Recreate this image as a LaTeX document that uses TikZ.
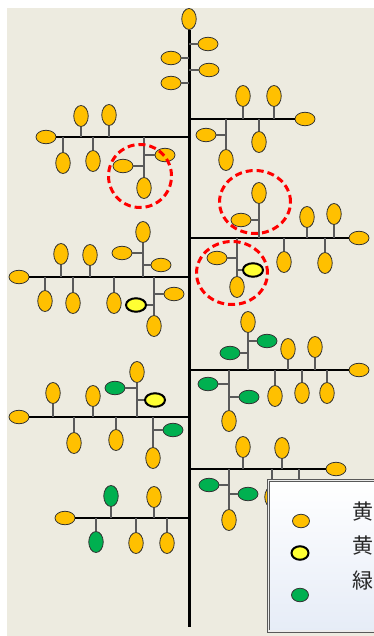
\documentclass[tikz,border=0pt]{standalone}
\usepackage{fontspec}
\usepackage{tikz}
\usetikzlibrary{shapes.geometric}
\newfontfamily\cjk{Noto Sans CJK JP}
\definecolor{paper}{HTML}{EDEBE0}
\definecolor{leafor}{HTML}{FFC000}
\definecolor{leafye}{HTML}{FFFF33}
\definecolor{leafgr}{HTML}{00B050}
\definecolor{leafedge}{HTML}{333333}
\definecolor{twiggray}{HTML}{5A5A5A}
\definecolor{boxtint}{HTML}{E6ECF7}

\begin{document}
\begin{tikzpicture}[x=1pt,y=-1pt,
  leaf/.style={ellipse,draw=leafedge,line width=0.8pt,fill=leafor,inner sep=0pt},
  hleaf/.style={leaf,minimum width=20pt,minimum height=13.5pt},
  vleaf/.style={leaf,minimum width=14.5pt,minimum height=21pt},
  or/.style={},
  gr/.style={fill=leafgr},
  hot/.style={fill=leafye,draw=black,line width=2pt},
  trunk/.style={line width=3pt},
  branch/.style={line width=1.1pt},
  twig/.style={line width=1.3pt,draw=twiggray},
  ring/.style={ellipse,draw=red,line width=3pt,dash pattern=on 7pt off 4pt,inner sep=0pt},
  keydot/.style={ellipse,draw=leafedge,line width=0.8pt,inner sep=0pt,minimum width=17pt,minimum height=13.5pt},
  keytext/.style={font=\cjk\fontsize{21}{21}\selectfont,text=black!85,inner sep=0pt}]
  \useasboundingbox (0,0) rectangle (374,636);
  \clip (0,0) rectangle (374,636);
  \fill[paper] (7,8) rectangle (374,636);

  \node[vleaf] (tip) at (189,19) {};
  \coordinate (base) at (189,627);
  \draw[trunk] (tip) -- (base);
  \foreach \p/\x/\y in {a/208/44,b/171/58,c/209/70,d/171/83}
    {\node[hleaf] (t\p) at (\x,\y) {}; \draw[twig] (base |- t\p) -- (t\p);}

  \coordinate (R1) at (189,119);
  \node[hleaf] (R1e) at (305,119) {};
  \draw[branch] (R1) -- (R1e);
  \foreach \p/\x/\y in {a/243/96,b/274/96,c/259/142}
    {\node[vleaf] (R1\p) at (\x,\y) {}; \draw[twig] (R1\p |- R1) -- (R1\p);}
  \coordinate (R1s) at (226,119);
  \node[vleaf] (R1sb) at (226,160) {};
  \draw[twig] (R1s) -- (R1sb);
  \node[hleaf] (R1sl) at (206,135) {};
  \draw[twig] (R1s |- R1sl) -- (R1sl);

  \coordinate (L1) at (189,137);
  \node[hleaf] (L1e) at (46,137) {};
  \draw[branch] (L1) -- (L1e);
  \foreach \p/\x/\y in {a/81/116,b/109/115,c/63/163,d/93/161}
    {\node[vleaf] (L1\p) at (\x,\y) {}; \draw[twig] (L1\p |- L1) -- (L1\p);}
  \coordinate (L1s) at (144,137);
  \node[vleaf] (L1sb) at (144,188) {};
  \draw[twig] (L1s) -- (L1sb);
  \foreach \p/\x/\y/\c in {r/165/155/or,l/123/166/or}
    {\node[hleaf,\c] (L1s\p) at (\x,\y) {}; \draw[twig] (L1s |- L1s\p) -- (L1s\p);}

  \coordinate (R2) at (189,238);
  \node[hleaf] (R2e) at (359,238) {};
  \draw[branch] (R2) -- (R2e);
  \foreach \p/\x/\y in {a/307/217,b/334/214,c/284/262,d/325/263}
    {\node[vleaf] (R2\p) at (\x,\y) {}; \draw[twig] (R2\p |- R2) -- (R2\p);}
  \coordinate (R2u) at (259,238);
  \node[vleaf] (R2ut) at (259,193) {};
  \draw[twig] (R2u) -- (R2ut);
  \node[hleaf] (R2ul) at (241,220) {};
  \draw[twig] (R2u |- R2ul) -- (R2ul);
  \coordinate (R2d) at (237,238);
  \node[vleaf] (R2db) at (237,287) {};
  \draw[twig] (R2d) -- (R2db);
  \foreach \p/\x/\y/\c in {l/217/258/or,r/253/270/hot}
    {\node[hleaf,\c] (R2d\p) at (\x,\y) {}; \draw[twig] (R2d |- R2d\p) -- (R2d\p);}

  \coordinate (L2) at (189,277);
  \node[hleaf] (L2e) at (19,277) {};
  \draw[branch] (L2) -- (L2e);
  \foreach \p/\x/\y in {a/61/254,b/90/255,c/45/301,d/73/303,e/114/303}
    {\node[vleaf] (L2\p) at (\x,\y) {}; \draw[twig] (L2\p |- L2) -- (L2\p);}
  \coordinate (L2u) at (143,277);
  \node[vleaf] (L2ut) at (143,232) {};
  \draw[twig] (L2u) -- (L2ut);
  \foreach \p/\x/\y/\c in {l/122/253/or,r/161/265/or}
    {\node[hleaf,\c] (L2u\p) at (\x,\y) {}; \draw[twig] (L2u |- L2u\p) -- (L2u\p);}
  \coordinate (L2d) at (154,277);
  \node[vleaf] (L2db) at (154,326) {};
  \draw[twig] (L2d) -- (L2db);
  \foreach \p/\x/\y/\c in {l/136/305/hot,r/174/294/or}
    {\node[hleaf,\c] (L2d\p) at (\x,\y) {}; \draw[twig] (L2d |- L2d\p) -- (L2d\p);}

  \coordinate (R3) at (189,370);
  \node[hleaf] (R3e) at (359,370) {};
  \draw[branch] (R3) -- (R3e);
  \foreach \p/\x/\y in {a/288/349,b/315/347,c/275/396,d/302/393,e/327/393}
    {\node[vleaf] (R3\p) at (\x,\y) {}; \draw[twig] (R3\p |- R3) -- (R3\p);}
  \coordinate (R3u) at (248,370);
  \node[vleaf] (R3ut) at (248,322) {};
  \draw[twig] (R3u) -- (R3ut);
  \foreach \p/\x/\y/\c in {r/267/341/gr,l/230/353/gr}
    {\node[hleaf,\c] (R3u\p) at (\x,\y) {}; \draw[twig] (R3u |- R3u\p) -- (R3u\p);}
  \coordinate (R3d) at (229,370);
  \node[vleaf] (R3db) at (229,421) {};
  \draw[twig] (R3d) -- (R3db);
  \foreach \p/\x/\y/\c in {l/208/384/gr,r/249/397/gr}
    {\node[hleaf,\c] (R3d\p) at (\x,\y) {}; \draw[twig] (R3d |- R3d\p) -- (R3d\p);}

  \coordinate (L3) at (189,417);
  \node[hleaf] (L3e) at (19,417) {};
  \draw[branch] (L3) -- (L3e);
  \foreach \p/\x/\y in {a/53/393,b/93/396,c/74/443,d/116/440}
    {\node[vleaf] (L3\p) at (\x,\y) {}; \draw[twig] (L3\p |- L3) -- (L3\p);}
  \coordinate (L3u) at (137,417);
  \node[vleaf] (L3ut) at (137,372) {};
  \draw[twig] (L3u) -- (L3ut);
  \foreach \p/\x/\y/\c in {l/115/388/gr,r/155/400/hot}
    {\node[hleaf,\c] (L3u\p) at (\x,\y) {}; \draw[twig] (L3u |- L3u\p) -- (L3u\p);}
  \coordinate (L3d) at (153,417);
  \node[vleaf] (L3db) at (153,458) {};
  \draw[twig] (L3d) -- (L3db);
  \node[hleaf,gr] (L3dr) at (173,430) {};
  \draw[twig] (L3d |- L3dr) -- (L3dr);

  \coordinate (R4) at (189,469);
  \node[hleaf] (R4e) at (336,469) {};
  \draw[branch] (R4) -- (R4e);
  \foreach \p/\x/\y in {a/243/447,b/282/448,c/272/497}
    {\node[vleaf] (R4\p) at (\x,\y) {}; \draw[twig] (R4\p |- R4) -- (R4\p);}
  \coordinate (R4h) at (299,490);
  \draw[twig] (R4h |- R4) -- (R4h);
  \coordinate (R4d) at (229,469);
  \node[vleaf] (R4db) at (229,520) {};
  \draw[twig] (R4d) -- (R4db);
  \foreach \p/\x/\y/\c in {l/209/485/gr,r/248/494/gr}
    {\node[hleaf,\c] (R4d\p) at (\x,\y) {}; \draw[twig] (R4d |- R4d\p) -- (R4d\p);}

  \coordinate (L4) at (189,518);
  \node[hleaf] (L4e) at (65,518) {};
  \draw[branch] (L4) -- (L4e);
  \foreach \p/\x/\y/\c in {a/111/496/gr,b/154/497/or,c/96/542/gr,d/136/543/or,e/167/543/or}
    {\node[vleaf,\c] (L4\p) at (\x,\y) {}; \draw[twig] (L4\p |- L4) -- (L4\p);}

  \node[ring,minimum width=63pt,minimum height=63pt] (c1) at (140,176) {};
  \node[ring,minimum width=71pt,minimum height=63pt] (c2) at (255,202) {};
  \node[ring,minimum width=71pt,minimum height=63pt] (c3) at (232,273) {};

  \draw[draw=gray!70!black,line width=0.8pt,double=white!85!gray,double distance=1.4pt,
    top color=white,bottom color=boxtint] (268.5,480.5) rectangle (392,631);
  \node[keydot,fill=leafor] (k1) at (301,521) {};
  \node[keydot,fill=leafye,draw=black,line width=2pt] (k2) at (300,553) {};
  \node[keydot,fill=leafgr] (k3) at (300,595) {};
  \node[keytext] (w1) at (363,512) {黄};
  \node[keytext] (w2) at (363,546) {黄};
  \node[keytext] (w3) at (363,581) {緑};
\end{tikzpicture}
\end{document}
